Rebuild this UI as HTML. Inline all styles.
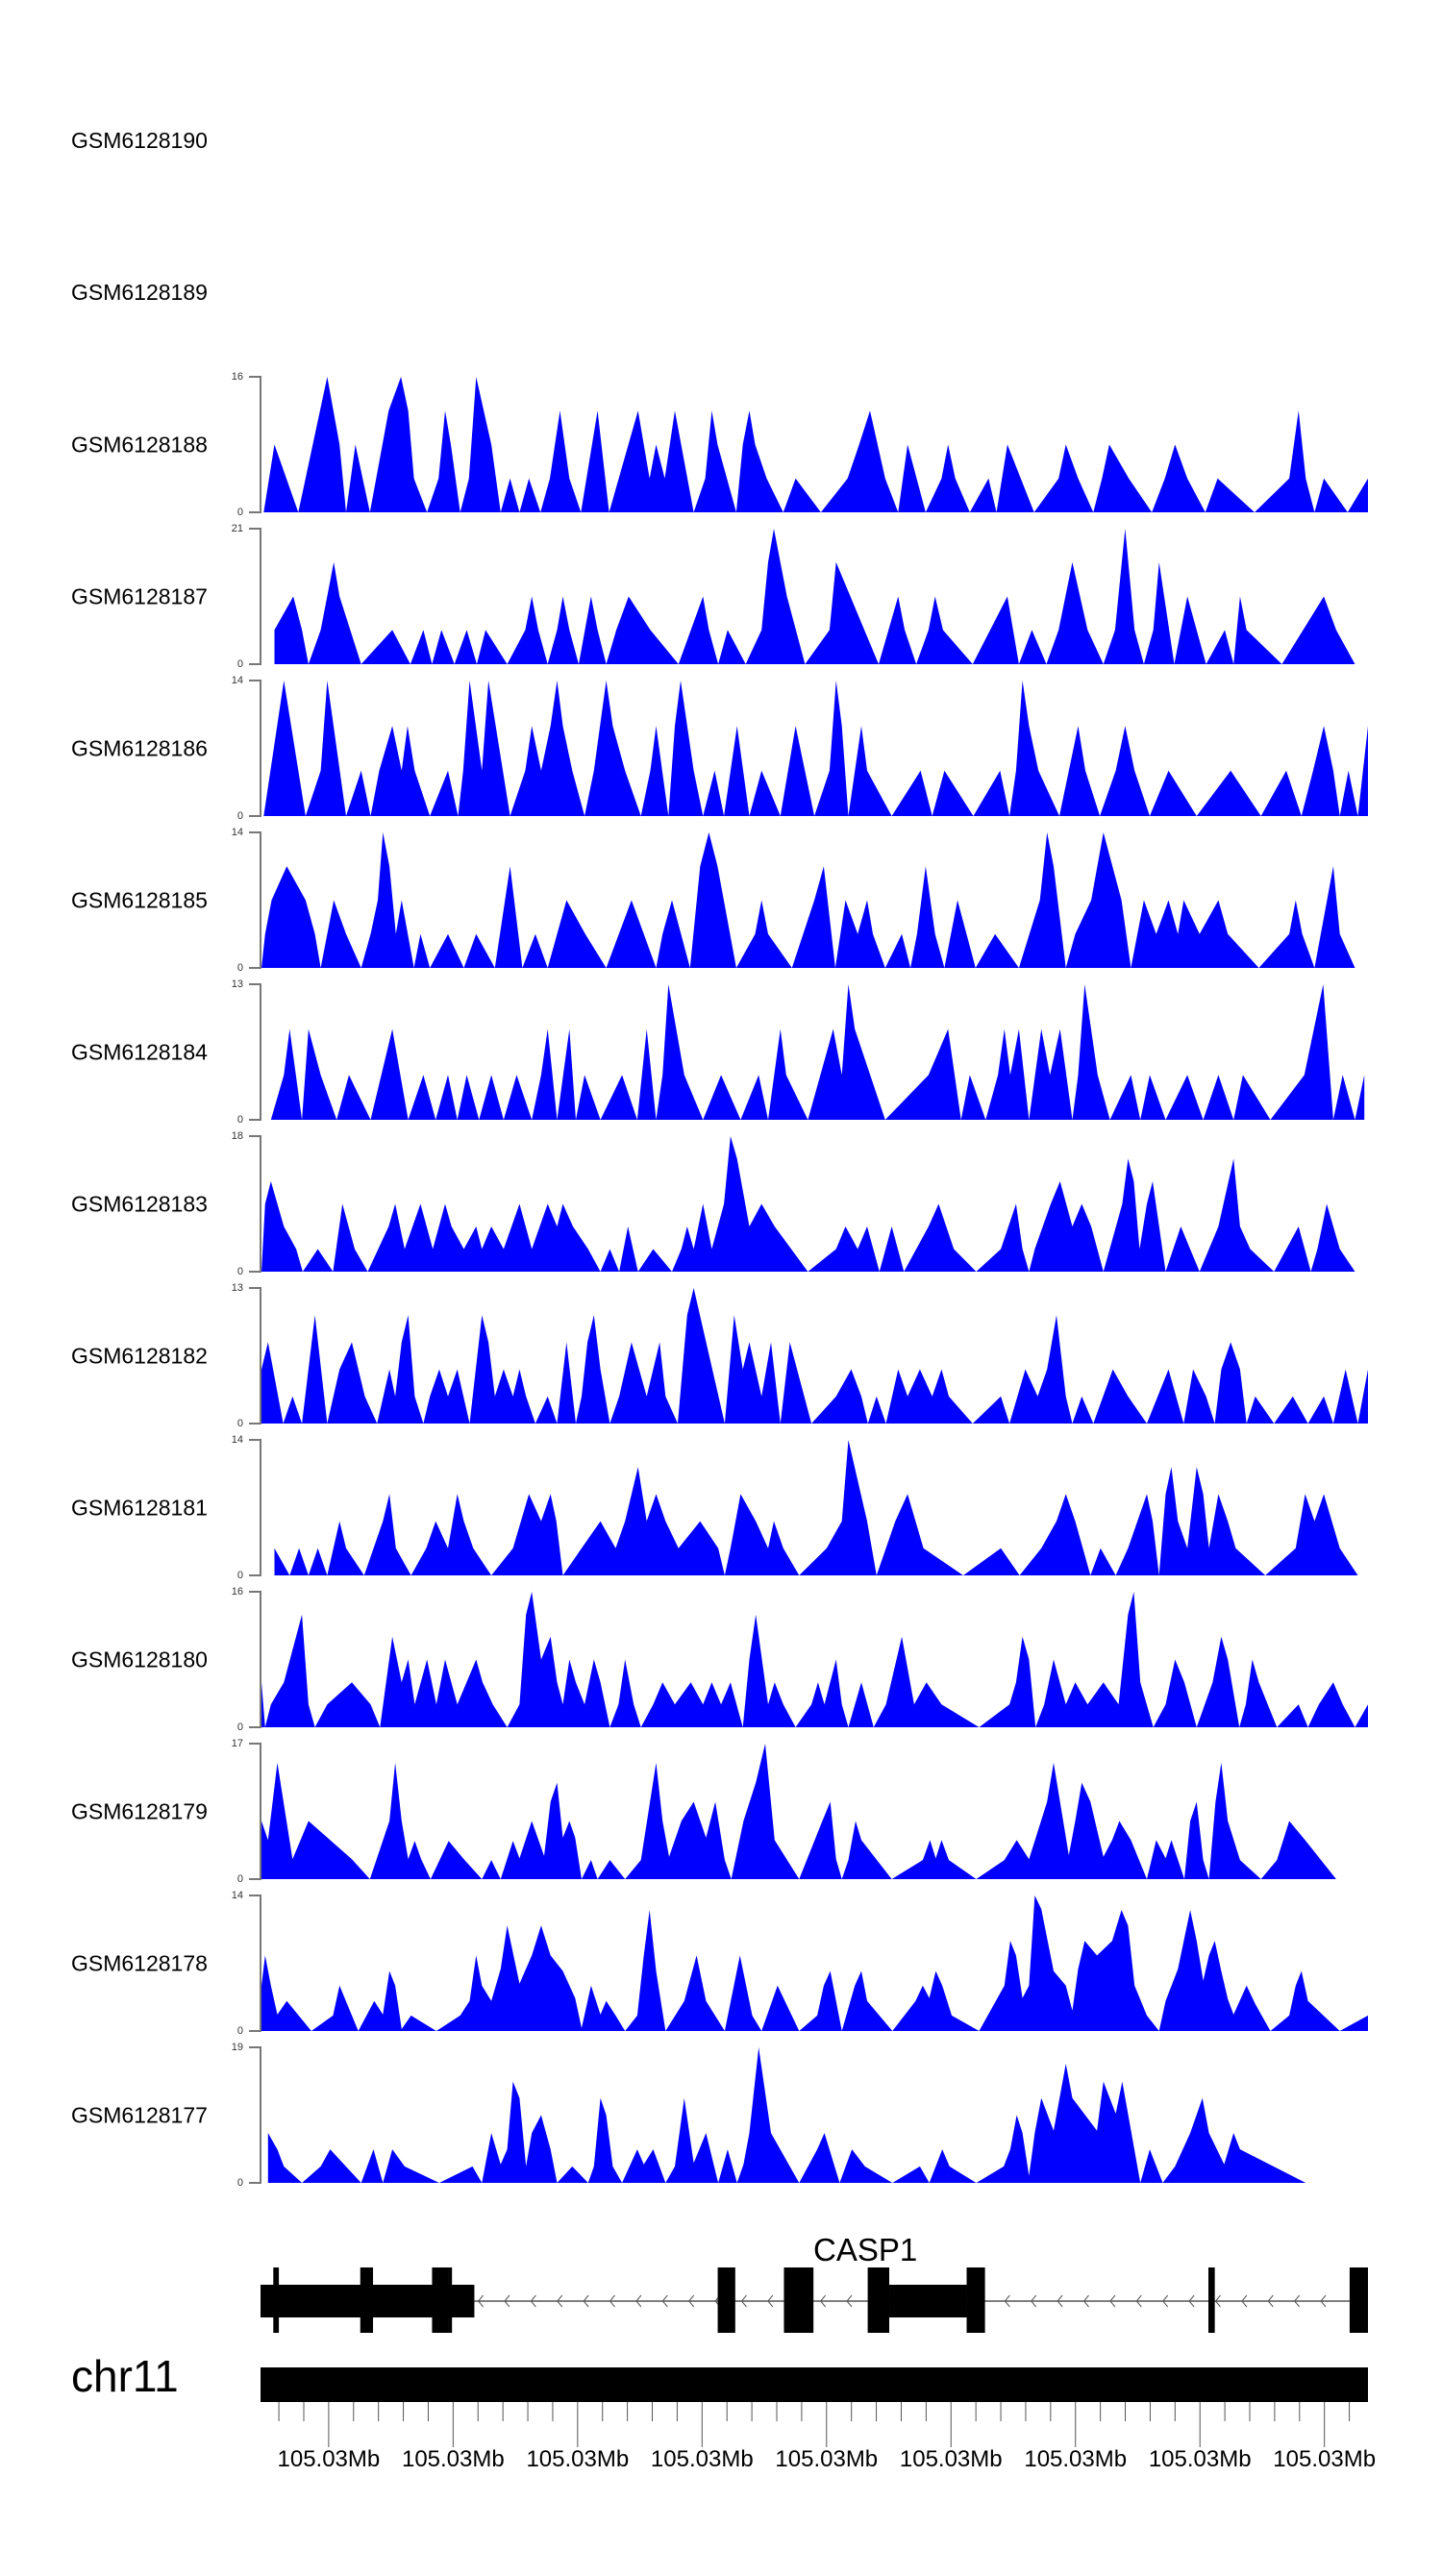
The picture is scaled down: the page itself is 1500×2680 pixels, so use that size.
<!DOCTYPE html>
<html><head><meta charset="utf-8"><title>CASP1 coverage tracks</title>
<style>
html,body{margin:0;padding:0;background:#fff;}
svg{display:block;font-family:"Liberation Sans",sans-serif;}
</style></head>
<body>
<svg id="chart" width="1500" height="2680" viewBox="0 0 1500 2680" xmlns="http://www.w3.org/2000/svg">
<rect x="0" y="0" width="1500" height="2680" fill="#fff"/>
<g id="tracks"></g>
<g id="gene"></g>
<g id="ideo"></g>
</svg>
<script>
// sample names
const emptyNames = ["GSM6128190","GSM6128189"];
const trackNames = ["GSM6128188","GSM6128187","GSM6128186","GSM6128185","GSM6128184","GSM6128183","GSM6128182","GSM6128181","GSM6128180","GSM6128179","GSM6128178","GSM6128177"];
const trackMax = [16,21,14,14,13,18,13,14,16,17,14,19];

// genomic offsets (region units) and coverage values per sample
const pos188=[18,33,66,106,123,132,145,165,191,208,218,226,244,260,269,277,290,302,312,333,346,359,372,385,401,414,428,441,457,480,496,536,552,561,573,587,613,629,638,646,672,681,690,698,714,737,754,789,826,842,857,878,896,909,934,956,965,975,995,1021,1032,1047,1084,1118,1128,1145,1166,1178,1188,1215,1247,1265,1279,1296,1321,1338,1389,1437,1450,1460,1472,1485,1518,1546];
const val188=[0,8,0,16,8,0,8,0,12,16,12,4,0,4,12,8,0,4,16,8,0,4,0,4,0,4,12,4,0,12,0,12,4,8,4,12,0,4,12,8,0,8,12,8,4,0,4,0,4,8,12,4,0,8,0,4,8,4,0,4,0,8,0,4,8,4,0,4,8,4,0,4,8,4,0,4,0,4,12,4,0,4,0,4];

const pos187=[33,33,59,71,80,97,115,123,153,196,221,239,251,264,282,299,313,325,355,380,389,398,411,424,432,441,454,471,480,492,506,523,553,592,626,634,647,660,685,707,716,724,742,767,801,810,869,896,905,921,938,947,958,999,1047,1063,1081,1101,1118,1137,1158,1180,1196,1210,1223,1236,1249,1257,1278,1296,1322,1348,1360,1369,1378,1427,1485,1502,1528];
const val187=[0,5.3,10.5,5.3,0,5.3,15.8,10.5,0,5.3,0,5.3,0,5.3,0,5.3,0,5.3,0,5.3,10.5,5.3,0,5.3,10.5,5.3,0,10.5,5.3,0,5.3,10.5,5.3,0,10.5,5.3,0,5.3,0,5.3,15.8,21,10.5,0,5.3,15.8,0,10.5,5.3,0,5.3,10.5,5.3,0,10.5,0,5.3,0,5.3,15.8,5.3,0,5.3,21,5.3,0,5.3,15.8,0,10.5,0,5.3,0,10.5,5.3,0,10.5,5.3,0];

const pos186=[18,46,76,97,106,132,153,166,178,196,209,217,227,248,273,287,294,303,320,329,359,380,389,402,415,424,432,445,462,475,492,501,518,540,553,561,578,587,595,613,626,642,655,673,690,707,733,754,780,801,810,818,827,845,853,887,927,943,960,1000,1037,1050,1059,1068,1077,1090,1119,1145,1155,1175,1197,1210,1223,1244,1270,1309,1356,1398,1433,1454,1470,1485,1498,1507,1519,1532,1546];
const val186=[0,14,0,4.7,14,0,4.7,0,4.7,9.3,4.7,9.3,4.7,0,4.7,0,4.7,14,4.7,14,0,4.7,9.3,4.7,9.3,14,9.3,4.7,0,4.7,14,9.3,4.7,0,4.7,9.3,0,9.3,14,4.7,0,4.7,0,9.3,0,4.7,0,9.3,0,4.7,14,9.3,0,9.3,4.7,0,4.7,0,4.7,0,4.7,0,4.7,14,9.3,4.7,0,9.3,4.7,0,4.7,9.3,4.7,0,4.7,0,4.7,0,4.7,0,4.7,9.3,4.7,0,4.7,0,9.3];

const pos185=[15,20,29,50,76,89,97,115,132,153,166,176,183,192,201,209,226,235,248,273,295,312,338,359,376,394,411,437,463,492,527,561,570,583,608,622,634,646,672,698,707,716,749,780,793,809,823,840,853,861,878,901,913,922,934,947,960,978,1003,1030,1063,1092,1102,1111,1128,1141,1163,1180,1205,1218,1236,1253,1270,1283,1291,1313,1339,1352,1395,1437,1446,1455,1472,1498,1507,1528];
const val185=[0,3.5,7,10.5,7,3.5,0,7,3.5,0,3.5,7,14,10.5,3.5,7,0,3.5,0,3.5,0,3.5,0,10.5,0,3.5,0,7,3.5,0,7,0,3.5,7,0,10.5,14,10.5,0,3.5,7,3.5,0,7,10.5,0,7,3.5,7,3.5,0,3.5,0,3.5,10.5,3.5,0,7,0,3.5,0,7,14,10.5,0,3.5,7,14,7,0,7,3.5,7,3.5,7,3.5,7,3.5,0,3.5,7,3.5,0,10.5,3.5,0];

const pos184=[28,46,54,71,80,97,119,136,166,196,218,239,256,273,286,299,316,333,350,368,389,402,411,424,441,450,462,484,514,535,548,561,570,578,600,626,651,678,703,716,733,741,771,806,818,827,836,878,938,965,983,995,1017,1034,1043,1051,1063,1077,1094,1106,1120,1137,1145,1154,1172,1189,1218,1231,1244,1266,1296,1318,1339,1360,1373,1411,1458,1484,1498,1511,1528,1541];
const val184=[0,4.3,8.7,0,8.7,4.3,0,4.3,0,8.7,0,4.3,0,4.3,0,4.3,0,4.3,0,4.3,0,4.3,8.7,0,8.7,0,4.3,0,4.3,0,8.7,0,4.3,13,4.3,0,4.3,0,4.3,0,8.7,4.3,0,8.7,4.3,13,8.7,0,4.3,8.7,0,4.3,0,4.3,8.7,4.3,8.7,0,8.7,4.3,8.7,0,4.3,13,4.3,0,4.3,0,4.3,0,4.3,0,4.3,0,4.3,0,4.3,13,0,4.3,0,4.3];

const pos183=[15,20,28,46,63,72,93,114,127,144,162,191,200,213,235,252,269,278,295,312,320,333,350,372,389,411,424,432,446,467,484,497,510,522,536,557,583,596,604,613,626,638,655,664,673,690,707,725,771,810,823,840,853,870,887,904,938,952,973,1004,1038,1059,1068,1077,1085,1107,1120,1137,1150,1163,1180,1206,1214,1222,1230,1240,1248,1266,1287,1313,1339,1360,1369,1383,1416,1450,1467,1476,1489,1507,1528];
const val183=[0,9,12,6,3,0,3,0,9,3,0,6,9,3,9,3,9,6,3,6,3,6,3,9,3,9,6,9,6,3,0,3,0,6,0,3,0,3,6,3,9,3,9,18,15,6,9,6,0,3,6,3,6,0,6,0,6,9,3,0,3,9,3,0,3,9,12,6,9,6,0,9,15,12,3,9,12,0,6,0,6,15,6,3,0,6,0,3,9,3,0];

const pos182=[15,15,24,45,58,71,89,106,123,140,158,175,192,200,209,218,227,239,248,261,273,286,303,320,329,338,350,363,372,381,394,411,424,437,450,458,466,475,484,497,510,527,548,566,574,591,604,613,656,669,681,690,707,720,733,746,776,810,831,845,854,866,879,896,909,926,943,956,966,999,1038,1050,1072,1089,1102,1115,1128,1137,1150,1166,1193,1214,1240,1270,1291,1304,1322,1334,1343,1356,1369,1378,1390,1416,1442,1463,1485,1498,1515,1532,1546];
const val182=[0,5.2,7.8,0,2.6,0,10.4,0,5.2,7.8,2.6,0,5.2,2.6,7.8,10.4,2.6,0,2.6,5.2,2.6,5.2,0,10.4,7.8,2.6,5.2,2.6,5.2,2.6,0,2.6,0,7.8,0,2.6,7.8,10.4,5.2,0,2.6,7.8,2.6,7.8,2.6,0,10.4,13,0,10.4,5.2,7.8,2.6,7.8,0,7.8,0,2.6,5.2,2.6,0,2.6,0,5.2,2.6,5.2,2.6,5.2,2.6,0,2.6,0,5.2,2.6,5.2,10.4,2.6,0,2.6,0,5.2,2.6,0,5.2,0,5.2,2.6,0,5.2,7.8,5.2,0,2.6,0,2.6,0,2.6,0,5.2,0,5.2];

const pos181=[33,33,54,67,80,93,106,123,132,157,183,192,201,222,243,256,273,286,295,308,333,363,385,402,415,423,432,458,484,505,518,536,548,561,574,592,622,647,656,664,678,699,716,724,737,759,797,818,827,853,866,892,909,931,986,1038,1064,1094,1115,1128,1141,1162,1176,1197,1214,1240,1248,1257,1266,1274,1283,1296,1309,1318,1326,1339,1352,1363,1404,1446,1459,1472,1485,1507,1532];
const val181=[0,2.8,0,2.8,0,2.8,0,5.6,2.8,0,5.6,8.4,2.8,0,2.8,5.6,2.8,8.4,5.6,2.8,0,2.8,8.4,5.6,8.4,5.6,0,2.8,5.6,2.8,5.6,11.2,5.6,8.4,5.6,2.8,5.6,2.8,0,2.8,8.4,5.6,2.8,5.6,2.8,0,2.8,5.6,14,5.6,0,5.6,8.4,2.8,0,2.8,0,2.8,5.6,8.4,5.6,0,2.8,0,2.8,8.4,5.6,0,8.4,11.2,5.6,2.8,11.2,8.4,2.8,8.4,5.6,2.8,0,2.8,8.4,5.6,8.4,2.8,0];

const pos180=[15,15,20,28,46,71,80,89,106,140,166,179,196,209,218,227,244,257,269,286,312,321,335,355,372,381,389,402,415,424,432,441,450,462,475,484,497,509,518,530,540,557,570,587,609,626,638,651,664,681,690,699,716,725,737,754,776,785,794,810,818,827,845,862,879,901,918,935,956,1008,1050,1059,1068,1077,1086,1098,1111,1128,1141,1158,1180,1201,1214,1222,1231,1249,1266,1279,1292,1309,1331,1343,1352,1368,1377,1386,1395,1420,1450,1463,1478,1498,1511,1528,1546];
const val180=[0,5.3,0,2.7,5.3,13.3,2.7,0,2.7,5.3,2.7,0,10.7,5.3,8,2.7,8,2.7,8,2.7,8,5.3,2.7,0,2.7,13.3,16,8,10.7,5.3,2.7,8,5.3,2.7,8,5.3,0,2.7,8,2.7,0,2.7,5.3,2.7,5.3,2.7,5.3,2.7,5.3,0,8,13.3,2.7,5.3,2.7,0,2.7,5.3,2.7,8,2.7,0,5.3,0,2.7,10.7,2.7,5.3,2.7,0,2.7,5.3,10.7,8,0,2.7,8,2.7,5.3,2.7,5.3,2.7,13.3,16,5.3,0,2.7,8,5.3,0,5.3,10.7,8,0,2.7,8,5.3,0,2.7,0,2.7,5.3,2.7,0,2.7];

const pos179=[15,15,24,37,58,80,140,165,192,200,209,218,227,236,249,274,295,320,333,346,363,372,389,406,415,424,432,441,449,458,471,480,497,518,540,561,570,579,596,613,630,643,656,665,682,699,712,725,759,791,802,810,818,827,837,845,887,930,940,948,956,966,1004,1043,1060,1077,1102,1111,1132,1141,1150,1162,1180,1192,1202,1218,1240,1253,1266,1274,1292,1300,1309,1318,1326,1335,1343,1352,1369,1398,1420,1437,1459,1502];
const val179=[0,7.3,4.9,14.6,2.5,7.3,2.5,0,7.3,14.6,7.3,2.5,4.8,2.5,0,4.8,2.5,0,2.4,0,4.8,2.6,7.3,2.9,9.7,12.1,5.2,7.3,5.2,0,2.4,0,2.4,0,2.4,14.6,7.3,2.8,7.3,9.7,5.2,9.7,2.4,0,7.3,12.1,17,4.9,0,7.3,9.7,2.5,0,2.4,7.3,4.9,0,2.4,4.9,2.6,4.9,2.4,0,2.4,4.9,2.5,9.7,14.6,3,7.3,12.1,9.7,2.8,4.9,7.3,4.9,0,4.9,2.6,4.9,0,7.3,9.7,2.4,0,9.7,14.6,7.3,2.4,0,2.4,7.3,4.9,0];

const pos178=[15,15,20,28,37,50,84,114,123,149,171,183,192,200,209,222,257,290,303,312,320,333,346,355,372,389,402,415,432,449,458,471,484,492,505,518,535,544,552,561,574,600,617,630,656,677,694,707,729,759,784,793,802,818,836,845,853,888,920,930,939,948,957,970,1008,1043,1051,1059,1068,1077,1085,1094,1111,1128,1137,1145,1154,1171,1192,1205,1214,1223,1240,1257,1266,1283,1300,1309,1318,1326,1334,1343,1352,1360,1378,1390,1411,1437,1446,1454,1463,1507,1546];
const val178=[0,4.7,7.8,4.7,1.7,3.1,0,1.6,4.7,0,3.1,1.7,6.2,4.7,0.2,1.6,0,1.6,3.1,7.8,4.7,3.1,6.4,10.9,4.9,7.8,10.9,7.8,6.2,3.4,0.3,4.7,1.7,3.1,1.6,0,1.6,7.8,12.5,6.2,0,3.1,7.8,3.1,0,7.8,1.6,0,4.7,0,1.6,4.7,6.2,0,4.7,6.2,3.1,0,3.1,4.7,3.4,6.2,4.7,1.6,0,4.7,9.3,7.8,3.4,4.7,14,12.6,6.2,4.7,2.1,6.4,9.3,7.8,9.3,12.5,10.9,4.7,1.6,0,3.1,6.4,12.5,9.3,5.2,7.8,9.3,6.2,3.3,1.7,4.7,2.8,0,1.6,4.7,6.2,3.1,0,1.6];

const pos177=[24,24,37,46,71,97,110,153,170,183,196,213,261,307,320,333,346,355,363,372,381,389,402,415,424,445,467,475,484,492,501,514,535,544,557,574,587,600,613,630,647,660,673,682,690,703,720,759,784,794,815,832,850,888,926,939,957,967,1004,1042,1051,1060,1068,1077,1085,1094,1111,1128,1137,1171,1180,1197,1206,1231,1244,1262,1279,1300,1317,1326,1347,1360,1369,1460];
const val177=[0,7,4.7,2.3,0,2.3,4.7,0,4.7,0,4.7,2.3,0,2.3,0,7,2.6,4.7,14.2,11.9,2.3,7,9.5,4.7,0,2.3,0,2.3,11.9,9.5,2.3,0,4.7,2.6,4.7,0,2.3,11.9,2.8,7,0,4.7,0,2.6,7,19,7,0,4.7,7,0,4.7,2.3,0,2.3,0,4.7,2.3,0,2.3,4.7,9.5,7,1,7,11.9,7.3,16.7,11.9,7.3,14.2,9.7,14.2,0,4.7,0,2.3,7,11.9,7,2.6,7,4.7,0];

// gene model (region units of gene axis)
const utrStarts=[87,875];
const utrEnds=[355,972];
const exonStarts=[103,212,302,322,660,743,848,972,1275,1452];
const exonEnds=[110,228,322,327,682,780,875,995,1283,1475];
const intronStart=355, intronEnd=1452;
const geneLabel="CASP1";
// chromosome axis
const chromName="chr11";
const axisLabels=["105.03Mb","105.03Mb","105.03Mb","105.03Mb","105.03Mb","105.03Mb","105.03Mb","105.03Mb","105.03Mb"];
const minorTickCount=44;

const NS="http://www.w3.org/2000/svg";
function mk(tag,attrs,parent){const e=document.createElementNS(NS,tag);for(const k in attrs)e.setAttribute(k,attrs[k]);parent.appendChild(e);return e;}

const posArr=[pos188,pos187,pos186,pos185,pos184,pos183,pos182,pos181,pos180,pos179,pos178,pos177];
const valArr=[val188,val187,val186,val185,val184,val183,val182,val181,val180,val179,val178,val177];

const D0=15,D1=1546,PX0=272,PX1=1423;
function xScale(v){return PX0+(v-D0)*(PX1-PX0)/(D1-D0);}
const TOP0=392,PITCH=158,H=141;

const tg=document.getElementById('tracks');
emptyNames.forEach((n,i)=>{
  const t=mk('text',{x:74,y:146+158*i-PITCH*0,'font-size':23,'dominant-baseline':'central',fill:'#000'},tg);
  t.setAttribute('y',146+158*i);
  
  
  t.textContent=n;
});
trackNames.forEach((n,k)=>{
  const top=TOP0+PITCH*k, bot=top+H, mx=trackMax[k];
  const g=mk('g',{},tg);
  
  
  const lab=mk('text',{x:74,y:top+H/2,'font-size':23,'dominant-baseline':'central',fill:'#000'},g);
  
  
  lab.textContent=n;
  const ax=mk('path',{d:`M259 ${top}H271V${bot}H259`,fill:'none',stroke:'#777','stroke-width':2},g);
  
  
  const tmax=mk('text',{x:253,y:top,'font-size':11,'text-anchor':'end','dominant-baseline':'central',fill:'#333'},g);
  
  
  tmax.textContent=mx;
  const t0=mk('text',{x:253,y:bot,'font-size':11,'text-anchor':'end','dominant-baseline':'central',fill:'#333'},g);
  
  
  t0.textContent='0';
  const ps=posArr[k], vs=valArr[k], n2=Math.min(ps.length,vs.length);
  let d=`M${xScale(ps[0]).toFixed(1)} ${bot}`;
  for(let i=0;i<n2;i++){d+=`L${xScale(ps[i]).toFixed(1)} ${(bot-vs[i]/mx*H).toFixed(1)}`;}
  d+=`L${xScale(ps[n2-1]).toFixed(1)} ${bot}Z`;
  const area=mk('path',{d:d,fill:'#0000ff',stroke:'none'},g);
  
  
});

// gene model
const G0=87,G1=1475;
function gx(v){return 271+(v-G0)*(1423-271)/(G1-G0);}
const gg=document.getElementById('gene');
const gl=mk('text',{x:gx(845),y:2352,'font-size':33,'text-anchor':'middle',fill:'#000'},gg);


gl.textContent=geneLabel;
const intr=mk('line',{x1:gx(intronStart),x2:gx(intronEnd),y1:2394,y2:2394,stroke:'#555','stroke-width':1.5},gg);


for(let v=360;v<intronEnd-10;v+=33){
  const x=gx(v);
  const c=mk('path',{d:`M${x+5} 2388L${x} 2394L${x+5} 2400`,fill:'none',stroke:'#555','stroke-width':1},gg);
  
  
}
utrStarts.forEach((s,i)=>{
  const r=mk('rect',{x:gx(s),y:2377,width:gx(utrEnds[i])-gx(s),height:34,fill:'#000'},gg);
  
  
});
exonStarts.forEach((s,i)=>{
  const r=mk('rect',{x:gx(s),y:2359,width:Math.max(3,gx(exonEnds[i])-gx(s)),height:68,fill:'#000'},gg);
  
  
});

// chromosome axis
const ig=document.getElementById('ideo');
const cn=mk('text',{x:74,y:2472,'font-size':46,'dominant-baseline':'central',fill:'#000'},ig);


cn.textContent=chromName;
const bar=mk('rect',{x:271,y:2463,width:1152,height:36,fill:'#000'},ig);


for(let i=0;i<minorTickCount;i++){
  const x=gx(110+31.2*i);
  const major=(i-2)%5===0 && i>=2;
  const tk=mk('line',{x1:x,x2:x,y1:2499,y2:major?2546:2519,stroke:'#555','stroke-width':1},ig);
  
  
}
axisLabels.forEach((l,j)=>{
  const x=gx(110+31.2*(2+5*j));
  const t=mk('text',{x:x,y:2566,'font-size':24,'text-anchor':'middle',fill:'#000'},ig);
  
  
  t.textContent=l;
});
</script>
</body></html>
